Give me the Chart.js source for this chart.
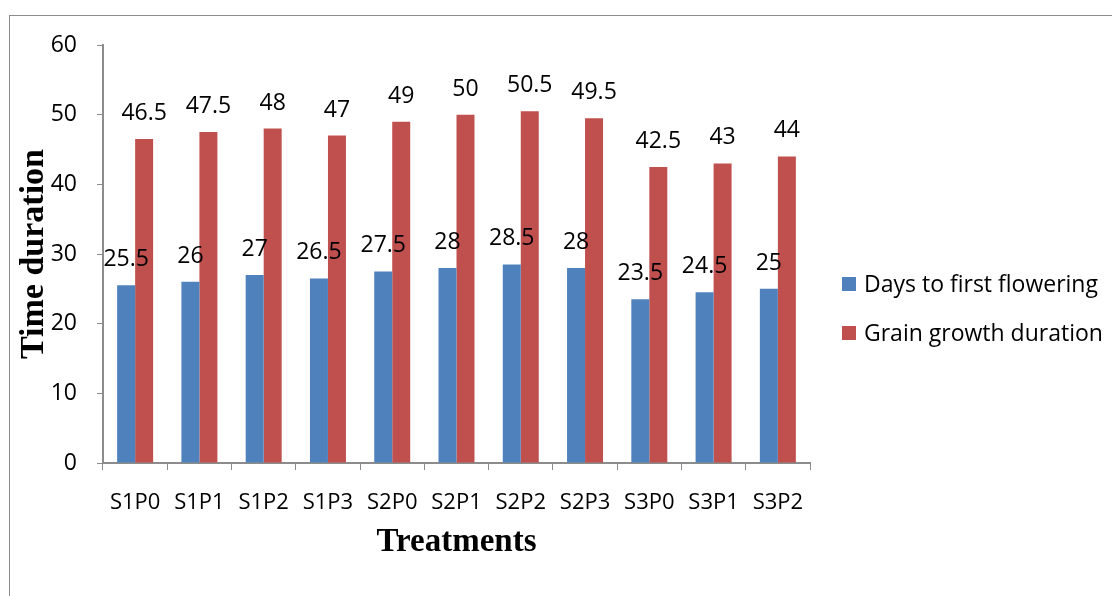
<!DOCTYPE html>
<html lang="en">
<head>
    <meta charset="UTF-8">
    <title>Time duration by treatment</title>
    <script src="https://cdn.jsdelivr.net/npm/chart.js"></script>
    <style>
        body {
            margin: 0;
            background: #ffffff;
            overflow: hidden;
        }

        #frame {
            position: absolute;
            left: 9px;
            top: 15px;
            width: 1200px;
            height: 700px;
            border-left: 1px solid #8c8c8c;
            border-top: 1px solid #8c8c8c;
        }

        #chartBox {
            position: absolute;
            left: 0;
            top: 0;
            width: 1112px;
            height: 596px;
        }
    </style>
</head>
<body>
    <div id="frame"></div>
    <div id="chartBox">
        <canvas id="durationChart" width="1112" height="596"></canvas>
    </div>

    <script>
        const treatments = ['S1P0', 'S1P1', 'S1P2', 'S1P3', 'S2P0', 'S2P1', 'S2P2', 'S2P3', 'S3P0', 'S3P1', 'S3P2'];
        const daysToFlowering = [25.5, 26, 27, 26.5, 27.5, 28, 28.5, 28, 23.5, 24.5, 25];
        const grainGrowth = [46.5, 47.5, 48, 47, 49, 50, 50.5, 49.5, 42.5, 43, 44];
        const yTicks = [0, 10, 20, 30, 40, 50, 60];

        const sansFamily = '"Open Sans", "Liberation Sans", Arial, sans-serif';
        const titleFamily = '"Liberation Serif", "Times New Roman", serif';

        // value labels above each bar
        const valueLabels = {
            id: 'valueLabels',
            afterDatasetsDraw(chart) {
                const c = chart.ctx;
                c.save();
                c.font = '23px ' + sansFamily;
                c.fillStyle = '#000000';
                c.textAlign = 'center';
                c.textBaseline = 'alphabetic';
                chart.data.datasets.forEach((ds, i) => {
                    chart.getDatasetMeta(i).data.forEach((bar, j) => {
                        c.fillText(String(ds.data[j]), bar.x, bar.y - 19);
                    });
                });
                c.restore();
            }
        };

        // legend on the right, Excel style
        const sideLegend = {
            id: 'sideLegend',
            afterDraw(chart) {
                const c = chart.ctx;
                c.save();
                c.font = '23px ' + sansFamily;
                c.textBaseline = 'middle';
                c.textAlign = 'left';
                const rows = [284, 333];
                chart.data.datasets.forEach((ds, i) => {
                    c.fillStyle = ds.backgroundColor;
                    c.fillRect(842, rows[i] - 7, 14, 14);
                    c.fillStyle = '#000000';
                    c.fillText(ds.label, 864, rows[i] + 1);
                });
                c.restore();
            }
        };

        new Chart(document.getElementById('durationChart'), {
            type: 'bar',
            data: {
                labels: treatments,
                datasets: [
                    {
                        label: 'Days to first flowering',
                        data: daysToFlowering,
                        backgroundColor: '#4F81BD'
                    },
                    {
                        label: 'Grain growth duration',
                        data: grainGrowth,
                        backgroundColor: '#C0504D'
                    }
                ]
            },
            options: {
                responsive: false,
                animation: false,
                layout: {
                    padding: { left: 0, top: 45, right: 302, bottom: 0 }
                },
                datasets: {
                    bar: {
                        categoryPercentage: 0.56,
                        barPercentage: 1.0
                    }
                },
                plugins: {
                    legend: { display: false },
                    tooltip: { enabled: false }
                },
                scales: {
                    x: {
                        afterFit(scale) { scale.height = 133; },
                        grid: {
                            offset: true,
                            drawOnChartArea: false,
                            drawTicks: true,
                            tickLength: 7,
                            color: '#8c8c8c'
                        },
                        border: { color: '#8c8c8c', width: 2 },
                        ticks: {
                            color: '#000000',
                            padding: 20,
                            maxRotation: 0,
                            font: { family: sansFamily, size: 22 }
                        },
                        title: {
                            display: true,
                            text: 'Treatments',
                            color: '#000000',
                            padding: { top: 34, bottom: 34 },
                            font: { family: titleFamily, size: 33, weight: 'bold' }
                        }
                    },
                    y: {
                        min: 0,
                        max: 60,
                        afterFit(scale) { scale.width = 103; },
                        afterBuildTicks(scale) {
                            scale.ticks = yTicks.map(v => ({ value: v }));
                        },
                        grid: {
                            drawOnChartArea: false,
                            drawTicks: true,
                            tickLength: 6,
                            color: '#8c8c8c'
                        },
                        border: { color: '#8c8c8c', width: 2 },
                        ticks: {
                            color: '#000000',
                            padding: 20,
                            font: { family: sansFamily, size: 23 }
                        },
                        title: {
                            display: true,
                            text: 'Time duration',
                            color: '#000000',
                            padding: { top: 14, bottom: 14 },
                            font: { family: titleFamily, size: 34, weight: 'bold' }
                        }
                    }
                }
            },
            plugins: [valueLabels, sideLegend]
        });
    </script>
</body>
</html>
